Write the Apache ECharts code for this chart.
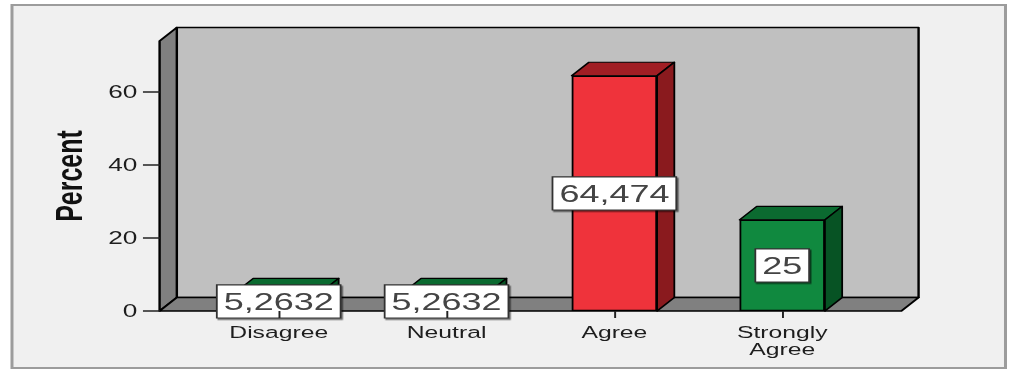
<!DOCTYPE html>
<html>
<head>
<meta charset="utf-8">
<script src="https://cdn.jsdelivr.net/npm/echarts@6/dist/echarts.min.js"></script>
<style>
  html, body { margin: 0; padding: 0; background: #ffffff; overflow: hidden; }
  /* the reference picture is stretched horizontally; reproduce that stretch */
  #chart { width: 674px; height: 371px; transform: scaleX(1.4985); transform-origin: 0 0; }
</style>
</head>
<body>
<div id="chart"></div>
<script>
// ---------------- data ----------------
const categories = ['Disagree', 'Neutral', 'Agree', 'Strongly Agree'];
const percentValues = [5.2632, 5.2632, 64.474, 25];
const yTickValues = [0, 20, 40, 60];
const yAxisMin = 0;
const yAxisMax = 74;
const yAxisTitle = 'Percent';

// ---------------- style ----------------
const FONT = "'Liberation Sans', Arial, sans-serif";
const DX = 11.5;      // 3D depth (x)
const DY = 13.5;      // 3D depth (y)
const WALL_PAD = 23.5;
const BAR_W = 57;
const FACE = {
  green: { front: '#10893f', top: '#0b6a30', side: '#075324' },
  red:   { front: '#ef333b', top: '#a11e24', side: '#8a1a1e' }
};
const barTone = ['green', 'green', 'red', 'green'];

const chart = echarts.init(document.getElementById('chart'), null, { renderer: 'svg' });

function wallItem(params, api) {
  const cs = params.coordSys;
  const x0 = cs.x - WALL_PAD;
  const x1 = cs.x + cs.width + WALL_PAD;
  const yT = cs.y;
  const yB = cs.y + cs.height;
  const edge = { stroke: '#000', lineWidth: 1.6, lineJoin: 'round' };
  return {
    type: 'group',
    children: [
      { type: 'rect', shape: { x: x0 + DX, y: yT - DY, width: x1 - x0, height: yB - yT },
        style: Object.assign({ fill: '#c0c0c0' }, edge) },
      { type: 'polygon', shape: { points: [[x0, yT], [x0 + DX, yT - DY], [x0 + DX, yB - DY], [x0, yB]] },
        style: Object.assign({ fill: '#808080' }, edge) },
      { type: 'polygon', shape: { points: [[x0, yB], [x0 + DX, yB - DY], [x1 + DX, yB - DY], [x1, yB]] },
        style: Object.assign({ fill: '#808080' }, edge) }
    ]
  };
}

function barDepthItem(params, api) {
  const i = api.value(0);
  const v = api.value(1);
  const top = api.coord([i, v]);
  const base = api.coord([i, 0]);
  const xl = top[0] - BAR_W / 2;
  const xr = top[0] + BAR_W / 2;
  const tone = FACE[barTone[i]];
  const edge = { stroke: '#000', lineWidth: 1.2, lineJoin: 'round' };
  return {
    type: 'group',
    children: [
      { type: 'polygon', shape: { points: [[xl, top[1]], [xl + DX, top[1] - DY], [xr + DX, top[1] - DY], [xr, top[1]]] },
        style: Object.assign({ fill: tone.top }, edge) },
      { type: 'polygon', shape: { points: [[xr, top[1]], [xr + DX, top[1] - DY], [xr + DX, base[1] - DY], [xr, base[1]]] },
        style: Object.assign({ fill: tone.side }, edge) }
    ]
  };
}

chart.setOption({
  animation: false,
  backgroundColor: '#ffffff',
  graphic: [{
    type: 'rect', z: -100, silent: true,
    shape: { x: 8, y: 5, width: 663, height: 363 },
    style: { fill: '#f0f0f0', stroke: '#9c9c9c', lineWidth: 2 }
  }],
  grid: { left: 130, width: 448, top: 41, bottom: 60, containLabel: false },
  xAxis: {
    type: 'category',
    data: categories,
    axisLine: { show: false },
    axisTick: { show: true, alignWithLabel: true, length: 7, lineStyle: { color: '#222', width: 1.3 } },
    axisLabel: {
      interval: 0, margin: 12, fontSize: 16.5, lineHeight: 17.5, color: '#1e1e1e', fontFamily: FONT,
      formatter: v => v.replace(' ', '\n')
    },
    splitLine: { show: false },
    z: 10
  },
  yAxis: {
    type: 'value',
    min: yAxisMin, max: yAxisMax,
    offset: 23.3,
    name: yAxisTitle,
    nameLocation: 'middle',
    nameGap: 48,
    nameTextStyle: { fontSize: 25, fontWeight: 'bold', color: '#111', fontFamily: FONT },
    axisLine: { show: false },
    axisTick: { show: true, length: 11.3, customValues: yTickValues, lineStyle: { color: '#222', width: 1.5 } },
    axisLabel: { margin: 15, fontSize: 17.5, color: '#1e1e1e', fontFamily: FONT, customValues: yTickValues },
    splitLine: { show: false },
    z: 10
  },
  series: [
    {
      type: 'custom', name: 'walls', z: 1, silent: true,
      renderItem: wallItem,
      data: [[0, 0]]
    },
    {
      type: 'custom', name: 'depth', z: 2, silent: true,
      renderItem: barDepthItem,
      data: percentValues.map((v, i) => [i, v])
    },
    {
      type: 'bar', name: 'Percent', z: 3,
      barWidth: BAR_W,
      data: percentValues.map((v, i) => ({ value: v, itemStyle: { color: FACE[barTone[i]].front } })),
      itemStyle: { borderColor: '#000', borderWidth: 1.2 },
      label: {
        show: true, position: 'inside',
        formatter: p => String(p.value).replace('.', ','),
        fontSize: 24, fontFamily: FONT, color: '#444',
        backgroundColor: '#ffffff', borderColor: '#333', borderWidth: 1.2,
        padding: [5, 4, 3, 4],
        shadowColor: 'rgba(0,0,0,0.55)', shadowOffsetX: 1, shadowOffsetY: 1.5, shadowBlur: 0
      }
    }
  ]
});
</script>
</body>
</html>
